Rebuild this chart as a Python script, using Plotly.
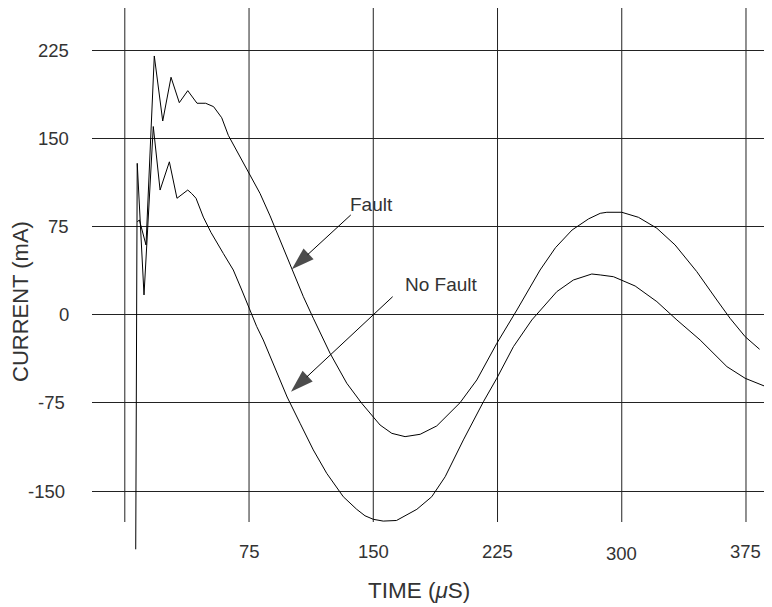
import plotly.graph_objects as go

# ---------------- data ----------------
time_fault = [7.5, 8.8, 12.8, 17.8, 22.9, 27.9, 32.9, 38.0, 43.6, 48.8, 53.6, 58.5,
              62.5, 69.6, 75.6, 81.6, 87.7, 93.7, 100.8, 107.8, 113.8, 123.9, 134.0,
              143.0, 154.1, 161.2, 169.2, 178.3, 188.3, 202.4, 212.5, 224.6, 236.7,
              250.7, 260.0, 270.0, 280.0, 287.0, 291.0, 300.0, 310.1, 321.2, 332.2,
              345.3, 357.4, 365.4, 374.5, 383.2]
current_fault = [79, 80.5, 59.3, 220, 164.7, 201.9, 180.3, 190.5, 179.8, 179.8, 176.9,
                 167.5, 152.5, 134.5, 119.5, 103.2, 84, 63.5, 38.6, 15.3, -3, -32.8,
                 -58.3, -75.3, -93.8, -100.9, -103.7, -101.7, -94.6, -74.8, -55.5, -24.3,
                 4, 38, 57, 72, 81.5, 86.2, 87.1, 87.1, 82.8, 73.5, 59.3, 36.6, 12.5,
                 -3.1, -18.7, -29.4]

time_nofault = [6.6, 7.5, 11.6, 17.2, 21.3, 26.9, 31.5, 38.0, 40.4, 43.0, 47.4, 52.0,
                59.5, 65.5, 70.6, 75.6, 79.6, 83.6, 90.0, 98.0, 105.8, 113.8, 121.9,
                131.9, 140.0, 145.0, 150.0, 156.0, 164.0, 170.2, 176.3, 185.3, 193.4,
                204.4, 216.5, 224.6, 234.6, 245.7, 260.8, 270.8, 281.9, 287.0, 295.0,
                308.1, 321.2, 333.3, 347.3, 363.5, 374.5, 386.0]
current_nofault = [-199.5, 128.7, 16.8, 160, 106, 130, 99, 106, 103, 99, 83, 70, 52, 38,
                   21, 4, -10, -21.5, -43, -70, -92.3, -115, -134.9, -154.8, -165.5,
                   -171, -174, -175.5, -175, -170.3, -165.5, -154.8, -137.8, -106.5,
                   -74, -54, -27.2, -4.5, 19.6, 29.5, 34.6, 33.8, 32.3, 24.4, 11.1,
                   -4.5, -21.5, -44.2, -54.1, -60.6]

x_tick_values = [75, 150, 225, 300, 375]
x_tick_labels = ["75", "150", "225", "300", "375"]
y_tick_values = [-150, -75, 0, 75, 150, 225]
y_tick_labels = ["-150", "-75", "0", "75", "150", "225"]

# ---------------- layout geometry ----------------
# the page body has an 8px default margin, so the figure starts at (8, 8)
OFF = 8
W, H = 772 - OFF, 607 - OFF
ML, MT = 92 - OFF, 8 - OFF
PW = W - ML
PH = 560 - 8
MB = H - MT - PH
X_RANGE = [-19.8, 390.7]
Y_RANGE = [-208.6, 260.8]

FONT = "Liberation Sans, Arial, Helvetica, sans-serif"
TXT = "#333333"
GRID = "#222222"


def px_x(p):
    return (p - OFF - ML) / PW


def px_y(p):
    return (MT + PH - (p - OFF)) / PH


fig = go.Figure()

line_style = dict(color="black", width=1)
fig.add_trace(go.Scatter(x=time_fault, y=current_fault, mode="lines",
                         line=line_style, name="Fault", hoverinfo="x+y"))
fig.add_trace(go.Scatter(x=time_nofault, y=current_nofault, mode="lines",
                         line=line_style, name="No Fault", hoverinfo="x+y"))

# pointer arrows (tail -> head), annotation decoration
arrows = [((136.4, 84.8), (100.8, 38.6)),
          ((161.7, 15.3), (100.3, -65.5))]
for tail, head in arrows:
    fig.add_trace(go.Scatter(
        x=[tail[0], head[0]], y=[tail[1], head[1]], mode="lines+markers",
        line=dict(color="black", width=1),
        marker=dict(symbol=["circle", "arrow"], size=[0, 24], angleref="previous",
                    color="black", line=dict(width=0)),
        hoverinfo="skip", showlegend=False))

# vertical grid lines (x=0 acts as the y axis line)
shapes = []
for xv in [0] + x_tick_values:
    shapes.append(dict(type="line", xref="x", yref="paper", x0=xv, x1=xv,
                       y0=px_y(522), y1=1, line=dict(color=GRID, width=1),
                       layer="below"))

annotations = []
# y tick labels
for v, lab in zip(y_tick_values, y_tick_labels):
    shift = -25 if v < 0 else -21
    annotations.append(dict(x=0, xref="paper", y=v, yref="y", text=lab,
                            showarrow=False, xanchor="right", yanchor="middle",
                            xshift=shift, font=dict(family=FONT, size=18.5, color=TXT)))
# x tick labels
for t, lab in zip(x_tick_values, x_tick_labels):
    ypix = 553.3 if lab == "300" else 551
    annotations.append(dict(x=t, xref="x", y=px_y(ypix), yref="paper", text=lab,
                            showarrow=False, xanchor="center", yanchor="middle",
                            font=dict(family=FONT, size=18.5, color=TXT)))
# axis titles
annotations.append(dict(x=px_x(419), xref="paper", y=px_y(590), yref="paper",
                        text="TIME (<i>μ</i>S)", showarrow=False,
                        xanchor="center", yanchor="middle",
                        font=dict(family=FONT, size=22.5, color=TXT)))
annotations.append(dict(x=px_x(21), xref="paper", y=px_y(302), yref="paper",
                        text="CURRENT (mA)", showarrow=False, textangle=-90,
                        xanchor="center", yanchor="middle",
                        font=dict(family=FONT, size=22, color=TXT)))
# series labels
annotations.append(dict(x=149.0, y=93.3, xref="x", yref="y", text="Fault",
                        showarrow=False, font=dict(family=FONT, size=19, color=TXT)))
annotations.append(dict(x=190.9, y=25.3, xref="x", yref="y", text="No Fault",
                        showarrow=False, font=dict(family=FONT, size=19, color=TXT)))

fig.update_layout(
    width=W, height=H,
    margin=dict(l=ML, r=0, t=MT, b=MB, pad=0),
    paper_bgcolor="white", plot_bgcolor="white",
    showlegend=False,
    xaxis=dict(range=X_RANGE, showgrid=False, zeroline=False, showticklabels=False,
               ticks="", showline=False, fixedrange=True),
    yaxis=dict(range=Y_RANGE, tickvals=y_tick_values, showgrid=True, gridcolor=GRID,
               gridwidth=1, zeroline=False, showticklabels=False, ticks="",
               showline=False, fixedrange=True),
    shapes=shapes,
    annotations=annotations,
)

fig.write_html("out.html")
